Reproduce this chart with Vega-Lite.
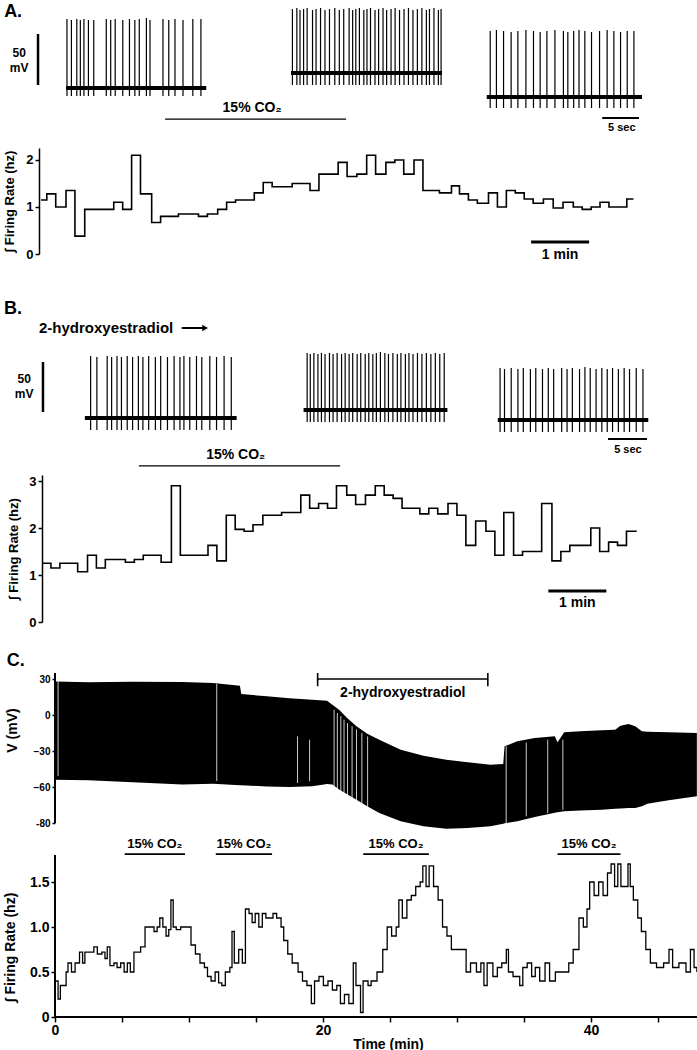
{
"$schema": "https://vega.github.io/schema/vega-lite/v6.json",
"padding": 0,
"background": "white",
"spacing": 0,
"bounds": "flush",
"resolve": {"scale": {"x": "independent", "y": "independent"}},
"config": {
 "view": {"stroke": null},
 "axis": {"labelFont": "Liberation Sans", "titleFont": "Liberation Sans", "labelFontWeight": "bold", "titleFontWeight": "bold", "labelColor": "#000", "titleColor": "#000", "tickColor": "#000", "domainColor": "#000", "grid": false, "labelFlush": false, "labelOverlap": false},
 "text": {"font": "Liberation Sans", "fontWeight": "bold", "color": "#000"}
},
"datasets": {
 "baseA": [{"t": 8.81, "t2": 27.5, "v": -60}, {"t": 38.8, "t2": 58.93, "v": -45}, {"t": 64.9, "t2": 85.6, "v": -69}],
 "spkA": [
  {"t": 8.93, "v": -68, "v2": 9}, {"t": 9.52, "v": -68, "v2": 8}, {"t": 10.24, "v": -68, "v2": 9}, {"t": 10.71, "v": -68, "v2": 8}, {"t": 11.19, "v": -68, "v2": 9}, {"t": 11.79, "v": -68, "v2": 8}, {"t": 12.5, "v": -68, "v2": 8}, {"t": 14.17, "v": -68, "v2": 9}, {"t": 14.76, "v": -68, "v2": 8}, {"t": 15.36, "v": -68, "v2": 9}, {"t": 16.37, "v": -68, "v2": 8}, {"t": 17.26, "v": -68, "v2": 9}, {"t": 17.98, "v": -68, "v2": 8}, {"t": 18.57, "v": -68, "v2": 9}, {"t": 19.52, "v": -68, "v2": 10}, {"t": 20.0, "v": -68, "v2": 8}, {"t": 21.73, "v": -68, "v2": 9}, {"t": 22.5, "v": -68, "v2": 8}, {"t": 23.33, "v": -68, "v2": 9}, {"t": 24.4, "v": -68, "v2": 8}, {"t": 25.71, "v": -68, "v2": 9}, {"t": 26.79, "v": -68, "v2": 9},
  {"t": 38.99, "v": -57, "v2": 19}, {"t": 39.58, "v": -57, "v2": 20}, {"t": 40.0, "v": -57, "v2": 18}, {"t": 40.48, "v": -57, "v2": 19}, {"t": 40.95, "v": -57, "v2": 20}, {"t": 41.67, "v": -57, "v2": 18}, {"t": 42.14, "v": -57, "v2": 19}, {"t": 42.74, "v": -57, "v2": 20}, {"t": 43.33, "v": -57, "v2": 18}, {"t": 43.93, "v": -57, "v2": 19}, {"t": 44.64, "v": -57, "v2": 20}, {"t": 45.24, "v": -57, "v2": 18}, {"t": 45.83, "v": -57, "v2": 19}, {"t": 46.55, "v": -57, "v2": 20}, {"t": 47.02, "v": -57, "v2": 18}, {"t": 47.44, "v": -57, "v2": 19}, {"t": 47.92, "v": -57, "v2": 20}, {"t": 48.51, "v": -57, "v2": 18}, {"t": 48.93, "v": -57, "v2": 19}, {"t": 49.4, "v": -57, "v2": 20}, {"t": 50.0, "v": -57, "v2": 18}, {"t": 50.48, "v": -57, "v2": 19}, {"t": 51.07, "v": -57, "v2": 20}, {"t": 51.55, "v": -57, "v2": 18}, {"t": 52.14, "v": -57, "v2": 19}, {"t": 52.68, "v": -57, "v2": 20}, {"t": 53.27, "v": -57, "v2": 18}, {"t": 53.87, "v": -57, "v2": 19}, {"t": 54.46, "v": -57, "v2": 20}, {"t": 55.06, "v": -57, "v2": 18}, {"t": 55.65, "v": -57, "v2": 19}, {"t": 56.25, "v": -57, "v2": 20}, {"t": 56.85, "v": -57, "v2": 18}, {"t": 57.26, "v": -57, "v2": 19}, {"t": 57.86, "v": -57, "v2": 20}, {"t": 58.45, "v": -57, "v2": 18}, {"t": 58.81, "v": -57, "v2": 19},
  {"t": 65.36, "v": -80, "v2": -3}, {"t": 66.19, "v": -80, "v2": -2}, {"t": 67.14, "v": -80, "v2": -3}, {"t": 68.15, "v": -80, "v2": -4}, {"t": 69.05, "v": -80, "v2": -3}, {"t": 70.12, "v": -80, "v2": -2}, {"t": 71.13, "v": -80, "v2": -3}, {"t": 72.02, "v": -80, "v2": -4}, {"t": 72.92, "v": -80, "v2": -3}, {"t": 73.99, "v": -80, "v2": -2}, {"t": 75.12, "v": -80, "v2": -3}, {"t": 75.71, "v": -80, "v2": -4}, {"t": 76.49, "v": -80, "v2": -3}, {"t": 77.2, "v": -80, "v2": -2}, {"t": 77.98, "v": -80, "v2": -3}, {"t": 78.87, "v": -80, "v2": -4}, {"t": 79.94, "v": -80, "v2": -3}, {"t": 80.95, "v": -80, "v2": -2}, {"t": 81.85, "v": -80, "v2": -3}, {"t": 82.74, "v": -80, "v2": -4}, {"t": 83.63, "v": -80, "v2": -3}, {"t": 84.52, "v": -80, "v2": -3}
 ],
 "baseB": [{"t": 10.88, "t2": 30.34, "v": -60}, {"t": 38.92, "t2": 57.36, "v": -52}, {"t": 63.82, "t2": 83.11, "v": -62}],
 "spkB": [
  {"t": 11.62, "v": -72, "v2": 2}, {"t": 12.42, "v": -72, "v2": 1}, {"t": 13.74, "v": -72, "v2": 2}, {"t": 14.31, "v": -72, "v2": 1}, {"t": 15.0, "v": -72, "v2": 2}, {"t": 15.57, "v": -72, "v2": 1}, {"t": 16.31, "v": -72, "v2": 2}, {"t": 17.0, "v": -72, "v2": 1}, {"t": 17.74, "v": -72, "v2": 2}, {"t": 18.32, "v": -72, "v2": 1}, {"t": 19.06, "v": -72, "v2": 2}, {"t": 19.92, "v": -72, "v2": 1}, {"t": 20.6, "v": -72, "v2": 2}, {"t": 21.47, "v": -72, "v2": 1}, {"t": 22.32, "v": -72, "v2": 2}, {"t": 23.07, "v": -72, "v2": 1}, {"t": 23.58, "v": -72, "v2": 2}, {"t": 24.33, "v": -72, "v2": 1}, {"t": 25.19, "v": -72, "v2": 2}, {"t": 25.87, "v": -72, "v2": 1}, {"t": 26.9, "v": -72, "v2": 2}, {"t": 27.76, "v": -72, "v2": 1}, {"t": 28.73, "v": -72, "v2": 2}, {"t": 29.65, "v": -72, "v2": 1},
  {"t": 39.38, "v": -64, "v2": 5}, {"t": 39.78, "v": -64, "v2": 4}, {"t": 40.24, "v": -64, "v2": 5}, {"t": 40.76, "v": -64, "v2": 4}, {"t": 41.21, "v": -64, "v2": 5}, {"t": 41.67, "v": -64, "v2": 4}, {"t": 42.24, "v": -64, "v2": 5}, {"t": 42.7, "v": -64, "v2": 4}, {"t": 43.22, "v": -64, "v2": 5}, {"t": 43.79, "v": -64, "v2": 4}, {"t": 44.25, "v": -64, "v2": 5}, {"t": 44.76, "v": -64, "v2": 4}, {"t": 45.22, "v": -64, "v2": 5}, {"t": 45.79, "v": -64, "v2": 4}, {"t": 46.25, "v": -64, "v2": 5}, {"t": 46.82, "v": -64, "v2": 4}, {"t": 47.28, "v": -64, "v2": 5}, {"t": 47.8, "v": -64, "v2": 4}, {"t": 48.25, "v": -64, "v2": 5}, {"t": 48.77, "v": -64, "v2": 6}, {"t": 49.34, "v": -64, "v2": 5}, {"t": 49.8, "v": -64, "v2": 4}, {"t": 50.37, "v": -64, "v2": 5}, {"t": 50.94, "v": -64, "v2": 4}, {"t": 51.4, "v": -64, "v2": 5}, {"t": 51.97, "v": -64, "v2": 4}, {"t": 52.43, "v": -64, "v2": 5}, {"t": 52.95, "v": -64, "v2": 4}, {"t": 53.52, "v": -64, "v2": 5}, {"t": 54.09, "v": -64, "v2": 4}, {"t": 54.66, "v": -64, "v2": 5}, {"t": 55.24, "v": -64, "v2": 4}, {"t": 55.81, "v": -64, "v2": 5}, {"t": 56.38, "v": -64, "v2": 4}, {"t": 56.95, "v": -64, "v2": 5},
  {"t": 64.11, "v": -74, "v2": -10}, {"t": 64.68, "v": -74, "v2": -11}, {"t": 65.54, "v": -74, "v2": -10}, {"t": 66.4, "v": -74, "v2": -11}, {"t": 67.09, "v": -74, "v2": -10}, {"t": 68.0, "v": -74, "v2": -11}, {"t": 68.69, "v": -74, "v2": -10}, {"t": 69.55, "v": -74, "v2": -11}, {"t": 70.29, "v": -74, "v2": -10}, {"t": 70.98, "v": -74, "v2": -11}, {"t": 72.01, "v": -74, "v2": -10}, {"t": 72.7, "v": -74, "v2": -11}, {"t": 73.38, "v": -74, "v2": -10}, {"t": 74.3, "v": -74, "v2": -11}, {"t": 74.99, "v": -74, "v2": -9}, {"t": 75.67, "v": -74, "v2": -10}, {"t": 76.42, "v": -74, "v2": -11}, {"t": 77.16, "v": -74, "v2": -10}, {"t": 77.85, "v": -74, "v2": -11}, {"t": 78.53, "v": -74, "v2": -10}, {"t": 79.28, "v": -74, "v2": -11}, {"t": 80.02, "v": -74, "v2": -10}, {"t": 80.71, "v": -74, "v2": -11}, {"t": 81.57, "v": -74, "v2": -10}, {"t": 82.43, "v": -74, "v2": -11}
 ],
 "rateA": [{"t":0,"v":1.15},{"t":0.1,"v":1.28},{"t":0.254,"v":1.0},{"t":0.431,"v":1.35},{"t":0.585,"v":0.38},{"t":0.754,"v":0.95},{"t":1.254,"v":1.1},{"t":1.408,"v":0.95},{"t":1.562,"v":2.1},{"t":1.715,"v":1.28},{"t":1.908,"v":0.67},{"t":2.062,"v":0.8},{"t":2.369,"v":0.85},{"t":2.715,"v":0.8},{"t":2.869,"v":0.85},{"t":3.046,"v":0.95},{"t":3.2,"v":1.1},{"t":3.354,"v":1.15},{"t":3.677,"v":1.3},{"t":3.831,"v":1.52},{"t":3.985,"v":1.43},{"t":4.331,"v":1.5},{"t":4.638,"v":1.35},{"t":4.792,"v":1.7},{"t":5.123,"v":1.95},{"t":5.277,"v":1.65},{"t":5.446,"v":1.7},{"t":5.615,"v":2.1},{"t":5.769,"v":1.7},{"t":5.946,"v":1.95},{"t":6.1,"v":2.0},{"t":6.254,"v":1.7},{"t":6.431,"v":2.0},{"t":6.585,"v":1.35},{"t":6.869,"v":1.3},{"t":7.077,"v":1.45},{"t":7.215,"v":1.28},{"t":7.369,"v":1.15},{"t":7.523,"v":1.08},{"t":7.715,"v":1.3},{"t":7.869,"v":1.0},{"t":8.023,"v":1.35},{"t":8.177,"v":1.3},{"t":8.331,"v":1.17},{"t":8.485,"v":1.08},{"t":8.662,"v":1.17},{"t":8.831,"v":0.98},{"t":9.0,"v":1.1},{"t":9.177,"v":1.0},{"t":9.331,"v":0.95},{"t":9.485,"v":1.0},{"t":9.638,"v":1.1},{"t":9.792,"v":1.0},{"t":10.1,"v":1.17},{"t":10.215,"v":1.17}],
 "rateB": [{"t":0,"v":1.25},{"t":0.154,"v":1.15},{"t":0.308,"v":1.25},{"t":0.615,"v":1.07},{"t":0.785,"v":1.42},{"t":0.938,"v":1.15},{"t":1.092,"v":1.33},{"t":1.438,"v":1.27},{"t":1.592,"v":1.33},{"t":1.746,"v":1.42},{"t":2.054,"v":1.27},{"t":2.231,"v":2.9},{"t":2.385,"v":1.42},{"t":2.862,"v":1.63},{"t":3.015,"v":1.3},{"t":3.177,"v":2.27},{"t":3.331,"v":1.97},{"t":3.485,"v":1.93},{"t":3.638,"v":2.07},{"t":3.808,"v":2.27},{"t":4.131,"v":2.33},{"t":4.462,"v":2.7},{"t":4.615,"v":2.42},{"t":4.769,"v":2.52},{"t":4.923,"v":2.42},{"t":5.077,"v":2.9},{"t":5.254,"v":2.7},{"t":5.408,"v":2.5},{"t":5.577,"v":2.7},{"t":5.746,"v":2.9},{"t":5.9,"v":2.7},{"t":6.054,"v":2.63},{"t":6.208,"v":2.42},{"t":6.515,"v":2.3},{"t":6.669,"v":2.42},{"t":6.823,"v":2.3},{"t":7.0,"v":2.52},{"t":7.154,"v":2.27},{"t":7.308,"v":1.63},{"t":7.477,"v":2.15},{"t":7.654,"v":1.93},{"t":7.808,"v":1.42},{"t":7.962,"v":2.33},{"t":8.131,"v":1.42},{"t":8.285,"v":1.5},{"t":8.615,"v":2.52},{"t":8.792,"v":1.3},{"t":8.946,"v":1.5},{"t":9.1,"v":1.63},{"t":9.462,"v":2.0},{"t":9.615,"v":1.5},{"t":9.769,"v":1.7},{"t":9.923,"v":1.63},{"t":10.077,"v":1.93},{"t":10.254,"v":1.93}],
 "vC": [{"t":0,"v":28,"v2":-54},{"t":2.5,"v":27.2,"v2":-54.4},{"t":5.8,"v":27.8,"v2":-56},{"t":9.5,"v":27.5,"v2":-58},{"t":11.8,"v":26.7,"v2":-57.2},{"t":13.8,"v":24.4,"v2":-58.5},{"t":13.9,"v":17.5,"v2":-58.6},{"t":15.8,"v":15.6,"v2":-59.5},{"t":17.5,"v":14,"v2":-60},{"t":19.2,"v":12.8,"v2":-59.4},{"t":20.3,"v":11.9,"v2":-57.5},{"t":20.7,"v":8.6,"v2":-58},{"t":21.2,"v":4.4,"v2":-62},{"t":21.8,"v":-2.5,"v2":-66},{"t":22.5,"v":-9.4,"v2":-70.6},{"t":23.3,"v":-15.6,"v2":-76},{"t":24.2,"v":-20.6,"v2":-81.7},{"t":25.8,"v":-28.9,"v2":-88.6},{"t":27.5,"v":-33.9,"v2":-92.8},{"t":29.2,"v":-37.2,"v2":-94.7},{"t":30.8,"v":-39.4,"v2":-94.2},{"t":32.5,"v":-41.4,"v2":-92.8},{"t":33.45,"v":-40.8,"v2":-90.6},{"t":33.55,"v":-26.1,"v2":-90.3},{"t":34.5,"v":-21.9,"v2":-88.5},{"t":35.8,"v":-19.2,"v2":-85},{"t":37.3,"v":-17.8,"v2":-81.5},{"t":37.5,"v":-22.8,"v2":-81},{"t":38.0,"v":-14.4,"v2":-80.3},{"t":39.2,"v":-13.6,"v2":-79.6},{"t":40.8,"v":-12.8,"v2":-78.9},{"t":41.8,"v":-12.2,"v2":-78.2},{"t":42.2,"v":-8.9,"v2":-78},{"t":42.8,"v":-7.5,"v2":-77.6},{"t":43.3,"v":-9.4,"v2":-77.5},{"t":43.8,"v":-13.6,"v2":-76},{"t":44.2,"v":-14,"v2":-73.9},{"t":45.8,"v":-14.4,"v2":-71.1},{"t":47.9,"v":-15,"v2":-67.8}],
 "gapC": [{"t":0.23,"v":28,"v2":-51},{"t":12.07,"v":26,"v2":-55},{"t":18.1,"v":-17.8,"v2":-56.7},{"t":19.0,"v":-20.6,"v2":-55.3},{"t":20.83,"v":4.4,"v2":-59.4},{"t":21.07,"v":1.7,"v2":-62},{"t":21.33,"v":-1,"v2":-65},{"t":21.57,"v":-3.9,"v2":-65},{"t":21.83,"v":-6.7,"v2":-67.8},{"t":22.17,"v":-9.4,"v2":-70.6},{"t":22.5,"v":-12,"v2":-73},{"t":22.9,"v":-15,"v2":-76},{"t":23.33,"v":-17.8,"v2":-79},{"t":33.67,"v":-26,"v2":-91},{"t":35.17,"v":-23,"v2":-84.4},{"t":36.77,"v":-20.6,"v2":-81.7},{"t":37.9,"v":-20.6,"v2":-79}],
 "rateC": [{"t":0,"v":0.4},{"t":0.23,"v":0.2},{"t":0.4,"v":0.35},{"t":0.83,"v":0.5},{"t":0.97,"v":0.6},{"t":1.23,"v":0.5},{"t":1.5,"v":0.6},{"t":1.83,"v":0.72},{"t":2.06,"v":0.6},{"t":2.23,"v":0.72},{"t":2.9,"v":0.78},{"t":3.16,"v":0.7},{"t":3.5,"v":0.72},{"t":3.73,"v":0.65},{"t":3.9,"v":0.78},{"t":4.1,"v":0.57},{"t":4.4,"v":0.6},{"t":4.63,"v":0.55},{"t":4.9,"v":0.6},{"t":5.16,"v":0.5},{"t":5.4,"v":0.6},{"t":5.62,"v":0.5},{"t":5.89,"v":0.72},{"t":6.39,"v":0.78},{"t":6.72,"v":1.0},{"t":7.39,"v":0.95},{"t":7.62,"v":1.0},{"t":7.82,"v":1.1},{"t":8.05,"v":1.0},{"t":8.29,"v":0.9},{"t":8.49,"v":0.97},{"t":8.65,"v":1.3},{"t":8.82,"v":1.0},{"t":9.05,"v":0.97},{"t":9.38,"v":1.0},{"t":10.15,"v":0.8},{"t":10.48,"v":0.7},{"t":10.82,"v":0.6},{"t":11.15,"v":0.55},{"t":11.38,"v":0.45},{"t":11.65,"v":0.4},{"t":11.95,"v":0.5},{"t":12.21,"v":0.38},{"t":12.45,"v":0.35},{"t":12.71,"v":0.5},{"t":13.05,"v":0.55},{"t":13.21,"v":0.95},{"t":13.38,"v":0.6},{"t":13.71,"v":0.75},{"t":13.98,"v":0.6},{"t":14.21,"v":1.2},{"t":14.48,"v":1.15},{"t":14.71,"v":1.05},{"t":14.94,"v":1.15},{"t":15.21,"v":1.0},{"t":15.47,"v":1.15},{"t":15.74,"v":1.1},{"t":16.27,"v":1.15},{"t":16.54,"v":1.1},{"t":16.87,"v":1.0},{"t":17.07,"v":0.85},{"t":17.37,"v":0.7},{"t":17.7,"v":0.6},{"t":18.14,"v":0.5},{"t":18.47,"v":0.4},{"t":18.8,"v":0.35},{"t":19.13,"v":0.15},{"t":19.37,"v":0.4},{"t":19.7,"v":0.45},{"t":20.03,"v":0.35},{"t":20.37,"v":0.4},{"t":20.7,"v":0.3},{"t":21.03,"v":0.35},{"t":21.3,"v":0.15},{"t":21.6,"v":0.25},{"t":21.93,"v":0.15},{"t":22.26,"v":0.6},{"t":22.46,"v":0.35},{"t":22.8,"v":0.05},{"t":22.99,"v":0.4},{"t":23.36,"v":0.35},{"t":23.59,"v":0.4},{"t":24.03,"v":0.5},{"t":24.46,"v":0.75},{"t":24.79,"v":1.0},{"t":25.12,"v":0.9},{"t":25.46,"v":1.0},{"t":25.66,"v":1.3},{"t":25.92,"v":1.1},{"t":26.26,"v":1.3},{"t":26.59,"v":1.35},{"t":26.92,"v":1.45},{"t":27.25,"v":1.5},{"t":27.45,"v":1.68},{"t":27.69,"v":1.45},{"t":27.92,"v":1.68},{"t":28.25,"v":1.45},{"t":28.59,"v":1.3},{"t":28.92,"v":1.0},{"t":29.25,"v":0.9},{"t":29.58,"v":0.75},{"t":30.68,"v":0.5},{"t":31.01,"v":0.6},{"t":31.45,"v":0.5},{"t":31.78,"v":0.6},{"t":32.01,"v":0.35},{"t":32.25,"v":0.6},{"t":32.68,"v":0.45},{"t":33.01,"v":0.55},{"t":33.34,"v":0.6},{"t":33.68,"v":0.75},{"t":33.84,"v":0.5},{"t":34.18,"v":0.45},{"t":34.68,"v":0.35},{"t":34.91,"v":0.55},{"t":35.24,"v":0.6},{"t":35.57,"v":0.45},{"t":35.84,"v":0.55},{"t":36.17,"v":0.4},{"t":36.57,"v":0.6},{"t":36.91,"v":0.4},{"t":37.34,"v":0.5},{"t":38.34,"v":0.6},{"t":38.67,"v":0.75},{"t":39.1,"v":1.1},{"t":39.43,"v":1.0},{"t":39.7,"v":1.2},{"t":39.9,"v":1.5},{"t":40.23,"v":1.35},{"t":40.57,"v":1.5},{"t":40.9,"v":1.35},{"t":41.23,"v":1.6},{"t":41.5,"v":1.7},{"t":41.76,"v":1.45},{"t":42.0,"v":1.7},{"t":42.23,"v":1.45},{"t":42.76,"v":1.7},{"t":42.93,"v":1.45},{"t":43.16,"v":1.3},{"t":43.49,"v":1.1},{"t":43.76,"v":0.95},{"t":44.09,"v":0.75},{"t":44.43,"v":0.6},{"t":44.89,"v":0.55},{"t":45.42,"v":0.6},{"t":45.82,"v":0.75},{"t":46.09,"v":0.55},{"t":46.56,"v":0.6},{"t":47.09,"v":0.5},{"t":47.42,"v":0.75},{"t":47.69,"v":0.55},{"t":47.9,"v":0.5}]
},
"vconcat": [
 {
  "width": 697, "height": 148,
  "encoding": {
   "x": {"field": "t", "type": "quantitative", "scale": {"domain": [0, 92.933], "nice": false, "zero": false}, "axis": null},
   "y": {"field": "v", "type": "quantitative", "scale": {"domain": [-120, 28], "nice": false, "zero": false}, "axis": null}
  },
  "layer": [
   {"data": {"name": "baseA"}, "mark": {"type": "rule", "color": "#000", "strokeWidth": 4}, "encoding": {"x2": {"field": "t2"}}},
   {"data": {"name": "spkA"}, "mark": {"type": "rule", "color": "#000", "strokeWidth": 1.2}, "encoding": {"y2": {"field": "v2"}}},
   {"data": {"values": [{"t": 5.07, "t2": 5.07, "v": -6, "v2": -57}]}, "mark": {"type": "rule", "color": "#000", "strokeWidth": 2.5}, "encoding": {"x2": {"field": "t2"}, "y2": {"field": "v2"}}},
   {"data": {"values": [{"t": 80.3, "t2": 85.2, "v": -90, "v2": -90}]}, "mark": {"type": "rule", "color": "#000", "strokeWidth": 2}, "encoding": {"x2": {"field": "t2"}, "y2": {"field": "v2"}}},
   {"data": {"values": [{"t": 0.55, "v": 16, "label": "A."}]}, "mark": {"type": "text", "fontSize": 18, "align": "left", "baseline": "middle"}, "encoding": {"text": {"field": "label"}}},
   {"data": {"values": [{"t": 2.55, "v": -25, "label": "50"}, {"t": 2.55, "v": -40, "label": "mV"}]}, "mark": {"type": "text", "fontSize": 12, "align": "center", "baseline": "middle"}, "encoding": {"text": {"field": "label"}}},
   {"data": {"values": [{"t": 82.9, "v": -100, "label": "5 sec"}]}, "mark": {"type": "text", "fontSize": 11, "align": "center", "baseline": "middle"}, "encoding": {"text": {"field": "label"}}}
  ]
 },
 {
  "width": 697, "height": 106,
  "encoding": {
   "x": {"field": "t", "type": "quantitative", "scale": {"domain": [-0.707, 11.31], "nice": false, "zero": false}, "axis": null},
   "y": {"field": "v", "type": "quantitative", "scale": {"domain": [0, 2.2553], "nice": false, "zero": false}, "axis": {"values": [0, 1, 2], "offset": -39, "title": "∫ Firing Rate (hz)", "titleX": -23, "tickSize": 4, "tickWidth": 1.5, "domainWidth": 1.5, "labelFontSize": 13, "titleFontSize": 13, "labelPadding": 2}}
  },
  "layer": [
   {"data": {"name": "rateA"}, "mark": {"type": "line", "interpolate": "step-after", "color": "#000", "strokeWidth": 1.6}},
   {"data": {"values": [{"t": 2.14, "t2": 5.26, "v": 2.87, "v2": 2.87}]}, "mark": {"type": "rule", "color": "#000", "strokeWidth": 1.2}, "encoding": {"x2": {"field": "t2"}, "y2": {"field": "v2"}}},
   {"data": {"values": [{"t": 8.45, "t2": 9.45, "v": 0.255, "v2": 0.255}]}, "mark": {"type": "rule", "color": "#000", "strokeWidth": 3}, "encoding": {"x2": {"field": "t2"}, "y2": {"field": "v2"}}},
   {"data": {"values": [{"t": 3.64, "v": 3.1, "label": "15% CO₂"}, {"t": 8.95, "v": -0.03, "label": "1 min"}]}, "mark": {"type": "text", "fontSize": 14, "align": "center", "baseline": "middle"}, "encoding": {"text": {"field": "label"}}}
  ]
 },
 {
  "width": 697, "height": 221,
  "encoding": {
   "x": {"field": "t", "type": "quantitative", "scale": {"domain": [0, 89.359], "nice": false, "zero": false}, "axis": null},
   "y": {"field": "v", "type": "quantitative", "scale": {"domain": [-117, 104], "nice": false, "zero": false}, "axis": null}
  },
  "layer": [
   {"data": {"name": "baseB"}, "mark": {"type": "rule", "color": "#000", "strokeWidth": 4}, "encoding": {"x2": {"field": "t2"}}},
   {"data": {"name": "spkB"}, "mark": {"type": "rule", "color": "#000", "strokeWidth": 1.2}, "encoding": {"y2": {"field": "v2"}}},
   {"data": {"values": [{"t": 5.51, "t2": 5.51, "v": -4, "v2": -54}]}, "mark": {"type": "rule", "color": "#000", "strokeWidth": 2.5}, "encoding": {"x2": {"field": "t2"}, "y2": {"field": "v2"}}},
   {"data": {"values": [{"t": 77.95, "t2": 82.95, "v": -81, "v2": -81}, {"t": 23.3, "t2": 26.2, "v": 30, "v2": 30}]}, "mark": {"type": "rule", "color": "#000", "strokeWidth": 2}, "encoding": {"x2": {"field": "t2"}, "y2": {"field": "v2"}}},
   {"data": {"values": [{"t": 26.3, "v": 30}]}, "mark": {"type": "point", "shape": "triangle-right", "filled": true, "color": "#000", "size": 45, "opacity": 1}},
   {"data": {"values": [{"t": 0.5, "v": 49, "label": "B."}]}, "mark": {"type": "text", "fontSize": 18, "align": "left", "baseline": "middle"}, "encoding": {"text": {"field": "label"}}},
   {"data": {"values": [{"t": 3.1, "v": -21, "label": "50"}, {"t": 3.1, "v": -36, "label": "mV"}]}, "mark": {"type": "text", "fontSize": 12, "align": "center", "baseline": "middle"}, "encoding": {"text": {"field": "label"}}},
   {"data": {"values": [{"t": 5.0, "v": 30, "label": "2-hydroxyestradiol"}]}, "mark": {"type": "text", "fontSize": 15, "align": "left", "baseline": "middle"}, "encoding": {"text": {"field": "label"}}},
   {"data": {"values": [{"t": 80.5, "v": -92, "label": "5 sec"}]}, "mark": {"type": "text", "fontSize": 11, "align": "center", "baseline": "middle"}, "encoding": {"text": {"field": "label"}}}
  ]
 },
 {
  "width": 697, "height": 147,
  "encoding": {
   "x": {"field": "t", "type": "quantitative", "scale": {"domain": [-0.724, 11.293], "nice": false, "zero": false}, "axis": null},
   "y": {"field": "v", "type": "quantitative", "scale": {"domain": [0, 3.1277], "nice": false, "zero": false}, "axis": {"values": [0, 1, 2, 3], "offset": -42, "title": "∫ Firing Rate (hz)", "titleX": -22, "tickSize": 4, "tickWidth": 1.5, "domainWidth": 1.5, "labelFontSize": 13, "titleFontSize": 13, "labelPadding": 2}}
  },
  "layer": [
   {"data": {"name": "rateB"}, "mark": {"type": "line", "interpolate": "step-after", "color": "#000", "strokeWidth": 1.6}},
   {"data": {"values": [{"t": 1.67, "t2": 5.14, "v": 3.32, "v2": 3.32}]}, "mark": {"type": "rule", "color": "#000", "strokeWidth": 1.2}, "encoding": {"x2": {"field": "t2"}, "y2": {"field": "v2"}}},
   {"data": {"values": [{"t": 8.73, "t2": 9.73, "v": 0.66, "v2": 0.66}]}, "mark": {"type": "rule", "color": "#000", "strokeWidth": 3}, "encoding": {"x2": {"field": "t2"}, "y2": {"field": "v2"}}},
   {"data": {"values": [{"t": 3.34, "v": 3.55, "label": "15% CO₂"}, {"t": 9.23, "v": 0.4, "label": "1 min"}]}, "mark": {"type": "text", "fontSize": 14, "align": "center", "baseline": "middle"}, "encoding": {"text": {"field": "label"}}}
  ]
 },
 {
  "width": 697, "height": 201,
  "encoding": {
   "x": {"field": "t", "type": "quantitative", "scale": {"domain": [-4.104, 47.91], "nice": false, "zero": false}, "axis": null},
   "y": {"field": "v", "type": "quantitative", "scale": {"domain": [-90, 77.5], "nice": false, "zero": false}, "axis": {"values": [30, 0, -30, -60, -90], "labelExpr": "datum.value == -90 ? '-80' : datum.label", "domain": false, "offset": -55, "title": "V (mV)", "titleX": -36, "titleY": 108, "tickSize": 3, "tickWidth": 1.5, "labelFontSize": 10, "titleFontSize": 14, "labelPadding": 2}}
  },
  "layer": [
   {"data": {"name": "vC"}, "mark": {"type": "area", "color": "#000", "opacity": 1}, "encoding": {"y2": {"field": "v2"}}},
   {"data": {"name": "gapC"}, "mark": {"type": "rule", "color": "#fff", "strokeWidth": 0.8}, "encoding": {"y2": {"field": "v2"}}},
   {"data": {"values": [{"t": 0, "t2": 0, "v": -90, "v2": 35}]}, "mark": {"type": "rule", "color": "#000", "strokeWidth": 2}, "encoding": {"x2": {"field": "t2"}, "y2": {"field": "v2"}}},
   {"data": {"values": [{"t": 19.6, "t2": 32.3, "v": 30, "v2": 30}, {"t": 19.6, "t2": 19.6, "v": 35, "v2": 24}, {"t": 32.3, "t2": 32.3, "v": 35, "v2": 24}]}, "mark": {"type": "rule", "color": "#000", "strokeWidth": 1.6}, "encoding": {"x2": {"field": "t2"}, "y2": {"field": "v2"}}},
   {"data": {"values": [{"t": 25.95, "v": 18.5, "label": "2-hydroxyestradiol"}]}, "mark": {"type": "text", "fontSize": 14, "align": "center", "baseline": "middle"}, "encoding": {"text": {"field": "label"}}},
   {"data": {"values": [{"t": -3.6, "v": 45, "label": "C."}]}, "mark": {"type": "text", "fontSize": 18, "align": "left", "baseline": "middle"}, "encoding": {"text": {"field": "label"}}}
  ]
 },
 {
  "width": 697, "height": 194,
  "encoding": {
   "x": {"field": "t", "type": "quantitative", "scale": {"domain": [-4.104, 47.91], "nice": false, "zero": false}, "axis": {"values": [0, 5, 10, 15, 20, 25, 30, 35, 40, 45], "labelExpr": "datum.value % 20 == 0 ? datum.label : ''", "domain": false, "title": "Time (min)", "titleX": 388, "tickSize": 5, "tickWidth": 1.5, "labelFontSize": 14, "titleFontSize": 14, "labelPadding": 1, "titlePadding": 0}},
   "y": {"field": "v", "type": "quantitative", "scale": {"domain": [0, 2.1556], "nice": false, "zero": false}, "axis": {"values": [0, 0.5, 1, 1.5], "labelExpr": "datum.value == 0 ? '0' : format(datum.value, '.1f')", "domain": false, "offset": -55, "title": "∫ Firing Rate (hz)", "titleX": -38, "titleY": 124, "tickSize": 4, "tickWidth": 1.5, "labelFontSize": 14, "titleFontSize": 14, "labelPadding": 2}}
  },
  "layer": [
   {"data": {"name": "rateC"}, "mark": {"type": "line", "interpolate": "step-after", "color": "#000", "strokeWidth": 1.3}},
   {"data": {"values": [{"t": 0, "t2": 47.91, "v": 0, "v2": 0}, {"t": 0, "t2": 0, "v": 0, "v2": 1.8}]}, "mark": {"type": "rule", "color": "#000", "strokeWidth": 2}, "encoding": {"x2": {"field": "t2"}, "y2": {"field": "v2"}}},
   {"data": {"values": [{"t": 5.2, "t2": 9.7, "v": 1.81, "v2": 1.81}, {"t": 12.0, "t2": 16.2, "v": 1.81, "v2": 1.81}, {"t": 23.0, "t2": 27.9, "v": 1.81, "v2": 1.81}, {"t": 37.5, "t2": 42.2, "v": 1.81, "v2": 1.81}]}, "mark": {"type": "rule", "color": "#000", "strokeWidth": 1.6}, "encoding": {"x2": {"field": "t2"}, "y2": {"field": "v2"}}},
   {"data": {"values": [{"t": 7.45, "v": 1.92, "label": "15% CO₂"}, {"t": 14.1, "v": 1.92, "label": "15% CO₂"}, {"t": 25.45, "v": 1.92, "label": "15% CO₂"}, {"t": 39.85, "v": 1.92, "label": "15% CO₂"}]}, "mark": {"type": "text", "fontSize": 13, "align": "center", "baseline": "middle"}, "encoding": {"text": {"field": "label"}}}
  ]
 }
]
}
